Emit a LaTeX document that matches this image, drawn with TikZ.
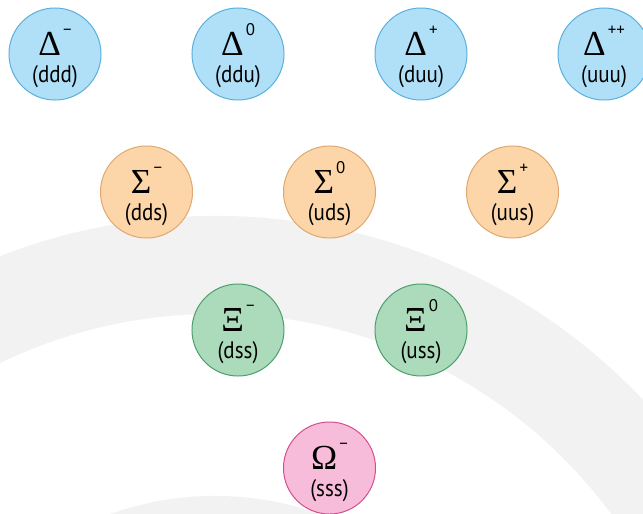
\documentclass[tikz,border=0pt]{standalone}
\usepackage{fontspec}
\usepackage{tikz}
\newfontfamily\quarkfont[FakeStretch=0.88]{PT Sans}
\newfontfamily\greekfont{Liberation Serif}
\newfontfamily\chargefont{PT Sans}
\definecolor{cBand}{HTML}{F2F2F2}
\definecolor{cDelta}{HTML}{B0E0F8}
\definecolor{cDeltaLine}{HTML}{5AAFDD}
\definecolor{cSigma}{HTML}{FCD5A8}
\definecolor{cSigmaLine}{HTML}{E0A870}
\definecolor{cXi}{HTML}{ABDBBB}
\definecolor{cXiLine}{HTML}{4B9E6B}
\definecolor{cOmega}{HTML}{F7BCDA}
\definecolor{cOmegaLine}{HTML}{D64C8F}

% symbol with charge on top, quark content below (baseline = circle centre)
\newcommand{\particle}[3]{%
  \makebox[0pt]{\raisebox{-1.1pt}{%
    {\greekfont\fontsize{25}{25}\selectfont #1}%
    \hspace{1.5pt}\raisebox{14pt}{\chargefont\fontsize{12}{12}\selectfont #2}}}%
  \makebox[0pt]{\raisebox{-20.6pt}{\quarkfont\fontsize{17}{17}\selectfont(#3)}}}

\begin{document}
\begin{tikzpicture}[
    x=0.025cm, y=-0.025cm,
    baryon/.style={circle, line width=0.7pt, minimum size=2.3cm, inner sep=0pt,
                   text height=0pt, text depth=0pt},
    delta/.style={baryon, draw=cDeltaLine, fill=cDelta},
    sigma/.style={baryon, draw=cSigmaLine, fill=cSigma},
    xi/.style={baryon, draw=cXiLine, fill=cXi},
    omega/.style={baryon, draw=cOmegaLine, fill=cOmega},
]
\useasboundingbox (0,0) rectangle (643,513);

% ---------- Geometry ----------
\def\dx{183}     % spacing inside a row
\def\dy{138}     % spacing between rows
\def\xo{55}
\def\yo{54}

% ---------- Grey bands behind ----------
\begin{scope}
  \clip (0,0) rectangle (643,513);
  \fill[cBand, even odd rule] (215,806) circle[radius=14.75cm] (215,806) circle[radius=12.3cm];
  \fill[cBand, even odd rule] (215,806) circle[radius=7.75cm] (215,806) circle[radius=5.3cm];
\end{scope}

% ---------- Delta row ----------
\foreach \i/\nm/\ch/\qk in {0/dltm/−/ddd, 1/dltz/0/ddu, 2/dltp/+/duu, 3/dltpp/++/uuu}{
  \node[delta] (\nm) at (\xo+\i*\dx,\yo) {\particle{Δ}{\ch}{\qk}};
}

% ---------- Sigma row ----------
\foreach \i/\nm/\ch/\qk in {0/sgmm/−/dds, 1/sgmz/0/uds, 2/sgmp/+/uus}{
  \node[sigma] (\nm) at (\xo+0.5*\dx+\i*\dx,\yo+\dy) {\particle{Σ}{\ch}{\qk}};
}

% ---------- Xi row ----------
\foreach \i/\nm/\ch/\qk in {0/xim/−/dss, 1/xiz/0/uss}{
  \node[xi] (\nm) at (\xo+\dx+\i*\dx,\yo+2*\dy) {\particle{Ξ}{\ch}{\qk}};
}

% ---------- Omega ----------
\node[omega] (omgm) at (\xo+1.5*\dx,\yo+3*\dy) {\particle{Ω}{−}{sss}};

\end{tikzpicture}
\end{document}
